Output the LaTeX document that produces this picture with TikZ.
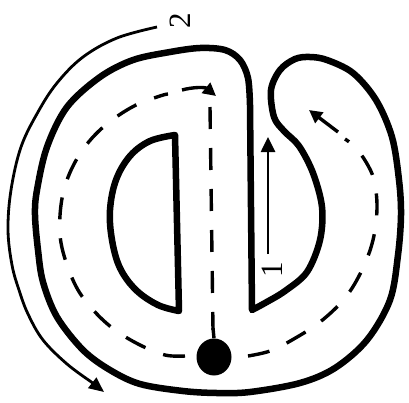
\documentclass[tikz,border=0pt]{standalone}
\usepackage{fontspec}
\setmainfont{Liberation Serif}
\usetikzlibrary{arrows.meta,shapes.geometric}
\tikzset{
  wall/.style={line width=6.5pt, line join=round, line cap=round},
  flow/.style={line width=3.4pt, dash pattern=on 22pt off 19pt},
  flowhead/.style={line width=3.4pt, -{Triangle[length=13pt,width=13pt]}},
  thinarrow/.style={line width=2.8pt, -{Triangle[length=15pt,width=13pt]}},
  lbl/.style={font=\fontsize{31}{33}\selectfont, rotate=90, inner sep=0pt}
}
\begin{document}
\begin{tikzpicture}[x=1pt,y=-1pt]
\useasboundingbox (0,0) rectangle (409,402);
% outer contour
\draw[wall] (252,310) -- (250,105) -- plot[smooth, tension=0.55] coordinates {
 (250,105) (248,78) (240,60) (225,50) (200,48) (170,52) (133,60) (100,77) (67,107)
 (47,147) (37,190) (35,215) (38,250) (43,282) (57,317) (83,350) (110,370) (140,384)
 (183,391) (217,393) (250,392) (300,383) (335,368) (367,340) (390,300) (398,255)
 (401,215) (399,180) (392,137) (376,100) (353,73) (327,60) (310,57) (295,59) (280,70)
 (271,90) (274,117) (284,131) (299,146) (313,173) (322,207) (320,240) (307,272)
 (285,291) (265,303) (252,310)} -- cycle;
% inner D
\draw[wall] (179,311) -- (175,135) -- plot[smooth, tension=0.6] coordinates {
 (175,135) (150,141) (130,156) (116,180) (110,210) (112,240) (120,268) (136,290)
 (158,305) (179,311)} -- cycle;
% dot
\node[fill=black, ellipse, minimum width=35pt, minimum height=37pt, inner sep=0pt] (dot) at (214,357) {};
\coordinate (stemtop) at (213,328);
\draw[line width=3.4pt] (stemtop) -- (dot.north);
% vertical dashed
\coordinate (vtop) at (210,107);
\coordinate (vbot) at (213,330);
\draw[flow] (vtop) -- (vbot);
% left dashed loop
\draw[flow] plot[smooth, tension=0.6] coordinates {
 (185,356) (165,355) (140,345) (115,330) (95,312) (78,290) (66,262) (60,235)
 (61,205) (67,180) (78,157) (93,137) (112,120) (136,105) (160,96) (168,94)};
% top arrow
\coordinate (ta1) at (182,90);
\coordinate (ta2) at (216,96);
\draw[flowhead] (ta1) .. controls (193,87) and (205,87) .. (ta2);
% right dashed
\draw[flow] plot[smooth, tension=0.6] coordinates {
 (248,356) (270,351) (292,340) (320,322) (345,298) (362,270) (373,240) (377,208)
 (374,180) (366,162) (355,147) (345,139)};
% right arrow
\coordinate (ra1) at (338,132);
\coordinate (ra2) at (309,110);
\draw[flowhead] (ra1) -- (ra2);
% arrow 1
\coordinate (a1s) at (268,254);
\coordinate (a1e) at (268,137);
\draw[line width=2.6pt, -{Triangle[length=15pt,width=14pt]}] (a1s) -- (a1e);
\node[lbl] (one) at (272,270) {1};
% arrow 2
\draw[thinarrow] plot[smooth, tension=0.6] coordinates {
 (157,27) (117,38) (83,57) (57,83) (38,112) (21,147) (11,190) (8,230) (12,265)
 (19,290) (28,314) (43,340) (67,364) (90,381)} -- (104,392);
\node[lbl] (two) at (180,21) {2};
\end{tikzpicture}
\end{document}
